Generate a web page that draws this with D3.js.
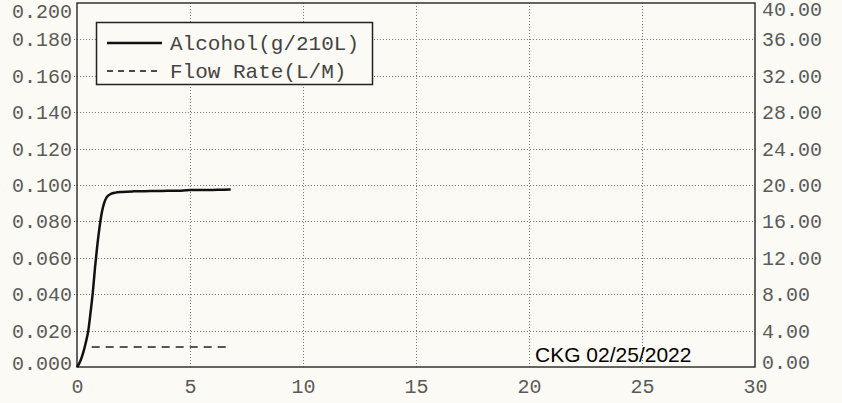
<!DOCTYPE html>
<html>
<head>
<meta charset="utf-8">
<script src="https://cdn.jsdelivr.net/npm/d3@7"></script>
<style>
  body { margin: 0; background: #fcfaf5; }
  svg { display: block; }
  .mono { font-family: "Courier New", "Liberation Mono", monospace; }
</style>
</head>
<body>
<div id="chart-area"></div>
<script>
// data
const alcoholTime = [0, 0.1, 0.2, 0.3, 0.4, 0.5, 0.6, 0.7, 0.8, 0.9, 1.0, 1.1, 1.2, 1.3, 1.4, 1.5, 1.7, 2.0, 2.5, 3.0, 3.5, 4.0, 4.5, 5.0, 5.5, 6.0, 6.5, 6.8]
const alcoholValue = [0, 0.002, 0.005, 0.009, 0.014, 0.020, 0.030, 0.041, 0.055, 0.067, 0.077, 0.085, 0.090, 0.093, 0.0944, 0.0951, 0.0958, 0.0962, 0.0965, 0.0966, 0.0967, 0.0968, 0.0969, 0.0972, 0.0972, 0.0973, 0.0974, 0.0975]
const flowTime = [0.65, 2, 4, 6, 6.8]
const flowValue = [2.2, 2.2, 2.2, 2.2, 2.2]

const xTicks = [0, 5, 10, 15, 20, 25, 30]
const yLeftTicks = [0, 0.02, 0.04, 0.06, 0.08, 0.1, 0.12, 0.14, 0.16, 0.18, 0.2]
const yRightTicks = [0, 4, 8, 12, 16, 20, 24, 28, 32, 36, 40]
const legendLabels = ["Alcohol(g/210L)", "Flow Rate(L/M)"]
const stamp = "CKG 02/25/2022"

const W = 842, H = 403
const PLOT = { LEFT: 77, RIGHT: 755, TOP: 3, BOTTOM: 367 }

const svg = d3.select("#chart-area").append("svg")
  .attr("width", W)
  .attr("height", H)

svg.append("rect").attr("width", W).attr("height", H).attr("fill", "#fcfaf5")

// scales
const x = d3.scaleLinear().domain([0, 30]).range([PLOT.LEFT, PLOT.RIGHT])
const yL = d3.scaleLinear().domain([0, 0.2]).range([PLOT.BOTTOM, PLOT.TOP])
const yR = d3.scaleLinear().domain([0, 40]).range([PLOT.BOTTOM, PLOT.TOP])

// dotted grid
const grid = svg.append("g")
  .attr("stroke", "#777")
  .attr("stroke-width", 1)
  .attr("stroke-dasharray", "1,2")
grid.selectAll(".hgrid")
  .data(yLeftTicks.slice(1, -1))
  .enter().append("line")
  .attr("x1", PLOT.LEFT - 3).attr("x2", PLOT.RIGHT)
  .attr("y1", d => Math.round(yL(d)) + 0.5).attr("y2", d => Math.round(yL(d)) + 0.5)
grid.selectAll(".vgrid")
  .data(xTicks.slice(1, -1))
  .enter().append("line")
  .attr("x1", d => Math.round(x(d)) + 0.5).attr("x2", d => Math.round(x(d)) + 0.5)
  .attr("y1", PLOT.TOP).attr("y2", PLOT.BOTTOM)

// axes
const leftAxis = svg.append("g")
  .attr("transform", `translate(${PLOT.LEFT}, 0)`)
  .call(d3.axisLeft(yL).tickValues(yLeftTicks).tickFormat(d3.format(".3f")).tickSize(0).tickPadding(5))
const rightAxis = svg.append("g")
  .attr("transform", `translate(${PLOT.RIGHT}, 0)`)
  .call(d3.axisRight(yR).tickValues(yRightTicks).tickFormat(d3.format(".2f")).tickSize(0).tickPadding(7))
const bottomAxis = svg.append("g")
  .attr("transform", `translate(0, ${PLOT.BOTTOM})`)
  .call(d3.axisBottom(x).tickValues(xTicks).tickFormat(d3.format("d")).tickSize(0).tickPadding(12))

for (const ax of [leftAxis, rightAxis, bottomAxis]) {
  ax.select(".domain").remove()
  ax.selectAll("text")
    .attr("class", "mono")
    .style("font-size", "20px")
    .attr("fill", "#5a5a5a")
}
// end labels are pushed inside the frame on the printout
leftAxis.selectAll(".tick text").filter(d => d === 0.2).attr("transform", "translate(0, 8)")
leftAxis.selectAll(".tick text").filter(d => d === 0).attr("transform", "translate(0, -4)")
rightAxis.selectAll(".tick text").filter(d => d === 40).attr("transform", "translate(0, 6)")
rightAxis.selectAll(".tick text").filter(d => d === 0).attr("transform", "translate(0, -5)")

// frame
svg.append("rect")
  .attr("x", PLOT.LEFT).attr("y", PLOT.TOP)
  .attr("width", PLOT.RIGHT - PLOT.LEFT).attr("height", PLOT.BOTTOM - PLOT.TOP)
  .attr("fill", "none")
  .attr("stroke", "#333")
  .attr("stroke-width", 1.5)

// lines
const alcohol = alcoholTime.map((t, i) => ({ t, v: alcoholValue[i] }))
const flow = flowTime.map((t, i) => ({ t, v: flowValue[i] }))

svg.append("path")
  .attr("fill", "none")
  .attr("stroke", "#111")
  .attr("stroke-width", 2.5)
  .attr("stroke-linejoin", "round")
  .attr("d", d3.line().x(d => x(d.t)).y(d => yL(d.v)).curve(d3.curveMonotoneX)(alcohol))

svg.append("path")
  .attr("fill", "none")
  .attr("stroke", "#222")
  .attr("stroke-width", 1.5)
  .attr("stroke-dasharray", "8,6")
  .attr("d", d3.line().x(d => x(d.t)).y(d => yR(d.v))(flow))

// legend
const legend = svg.append("g")
legend.append("rect")
  .attr("x", 96.5).attr("y", 22.5)
  .attr("width", 276).attr("height", 62)
  .attr("fill", "#fcfaf5")
  .attr("stroke", "#222")
  .attr("stroke-width", 1.5)
legendLabels.forEach((label, i) => {
  const ly = 43 + i * 28
  legend.append("line")
    .attr("x1", 107).attr("x2", 162)
    .attr("y1", ly).attr("y2", ly)
    .attr("stroke", "#111")
    .attr("stroke-width", i === 0 ? 2.5 : 1.5)
    .attr("stroke-dasharray", i === 0 ? null : "6,5")
  legend.append("text")
    .attr("class", "mono")
    .attr("x", 170).attr("y", ly)
    .attr("dy", "0.35em")
    .style("font-size", "21px")
    .attr("fill", "#444")
    .text(label)
})

// stamp
svg.append("text")
  .attr("x", 535).attr("y", 362)
  .style("font-family", "Arial, 'Liberation Sans', sans-serif")
  .style("font-size", "21px")
  .attr("fill", "#000")
  .text(stamp)
</script>
</body>
</html>
